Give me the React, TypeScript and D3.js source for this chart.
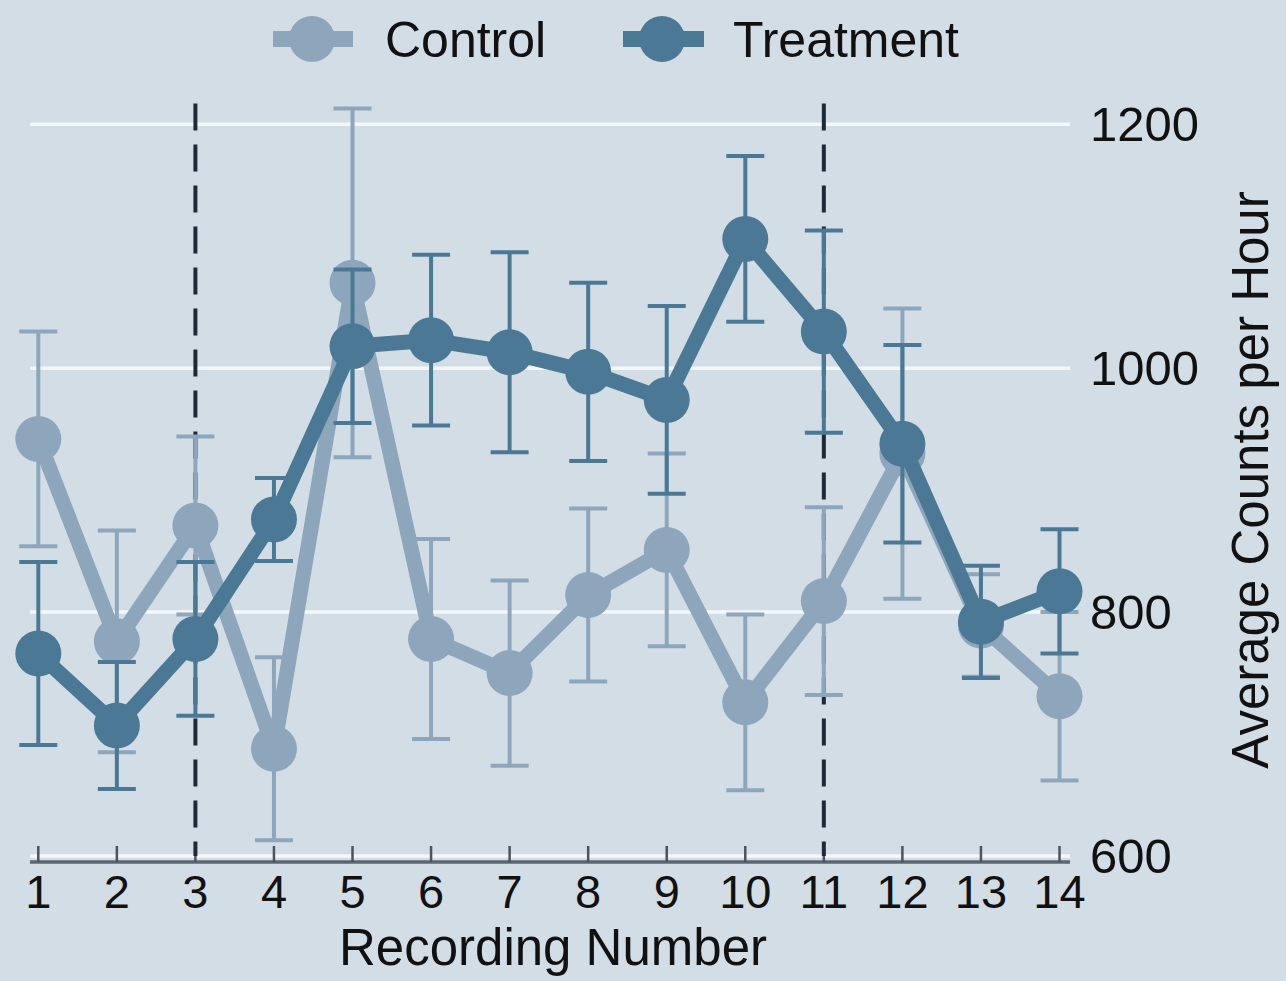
import React from "react";
import * as d3 from "d3";

// recordings 1..14
const recordings = [1, 2, 3, 4, 5, 6, 7, 8, 9, 10, 11, 12, 13, 14];

// mean counts per hour and error (half bar length)
const controlMean = [942, 776, 871, 688, 1070, 778, 750, 814, 851, 726, 809, 930, 789, 731];
const controlErr = [88, 91, 73, 75, 143, 82, 76, 71, 79, 72, 77, 119, 42, 69];
const treatmentMean = [766, 707, 778, 876, 1018, 1023, 1013, 997, 974, 1106, 1030, 938, 792, 817];
const treatmentErr = [75, 52, 63, 34, 63, 70, 82, 73, 77, 68, 83, 81, 46, 51];

const yTicks = [600, 800, 1000, 1200];
const markerLines = [3, 11];
const markerTop = 1217;

const W = 1286;
const H = 981;
const BG = "#d2dde6";
const CONTROL = "#8ea6bb";
const TREAT = "#4b7995";
const FONT = "'Liberation Sans', Arial, Helvetica, sans-serif";

const x = d3.scaleLinear().domain([1, 14]).range([38.3, 1059.5]);
const y = d3.scaleLinear().domain([600, 1200]).range([856, 124.3]);

const Series = ({ means, errs, color }) => {
  const line = d3.line<number>()
    .x((_, i) => x(recordings[i]))
    .y(d => y(d));
  return (
    <g>
      {means.map((m, i) => {
        const cx = x(recordings[i]);
        const top = y(m + errs[i]);
        const bot = y(m - errs[i]);
        return (
          <g key={i} stroke={color} strokeWidth={4}>
            <line x1={cx} x2={cx} y1={top} y2={bot} />
            <line x1={cx - 19} x2={cx + 19} y1={top} y2={top} />
            <line x1={cx - 19} x2={cx + 19} y1={bot} y2={bot} />
          </g>
        );
      })}
      <path d={line(means) || ""} fill="none" stroke={color} strokeWidth={15} strokeLinejoin="round" />
      {means.map((m, i) => (
        <circle key={i} cx={x(recordings[i])} cy={y(m)} r={23} fill={color} />
      ))}
    </g>
  );
};

export default function App() {
  return (
    <svg width={W} height={H} style={{ position: "absolute", left: 0, top: 0 }} fontFamily={FONT}>
      <rect width={W} height={H} fill={BG} />

      {/* gridlines */}
      {yTicks.map(t => (
        <line key={t} x1={30} x2={1070} y1={y(t)} y2={y(t)} stroke="#f4f7f9" strokeWidth={3.5} />
      ))}

      {/* x axis */}
      <line x1={30} x2={1070} y1={y(600) + 6} y2={y(600) + 6} stroke="#5c6670" strokeWidth={3.5} />
      {recordings.map(r => (
        <line key={r} x1={x(r)} x2={x(r)} y1={y(600) - 10} y2={y(600) + 6} stroke="#4a545e" strokeWidth={2.5} />
      ))}

      {/* reference lines */}
      {markerLines.map(r => (
        <line key={r} x1={x(r)} x2={x(r)} y1={y(markerTop)} y2={y(600)} stroke="#1e2a36" strokeWidth={4} strokeDasharray="27,14" />
      ))}

      <Series means={controlMean} errs={controlErr} color={CONTROL} />
      <Series means={treatmentMean} errs={treatmentErr} color={TREAT} />

      {/* x tick labels */}
      {recordings.map(r => (
        <text key={r} x={x(r)} y={908} textAnchor="middle" fontSize={47} fill="#111">{r}</text>
      ))}
      <text x={553} y={965} textAnchor="middle" fontSize={51} fill="#111">Recording Number</text>

      {/* y tick labels on the right */}
      {yTicks.map(t => (
        <text key={t} x={1090} y={y(t)} dominantBaseline="central" fontSize={49} fill="#111">{t}</text>
      ))}
      <text transform="translate(1268,480) rotate(-90)" textAnchor="middle" fontSize={51} fill="#111">Average Counts per Hour</text>

      {/* legend */}
      <g>
        <line x1={273} x2={353} y1={39} y2={39} stroke={CONTROL} strokeWidth={16} />
        <circle cx={312} cy={39} r={23} fill={CONTROL} />
        <text x={385} y={57} fontSize={50} fill="#111">Control</text>
        <line x1={623} x2={704} y1={39} y2={39} stroke={TREAT} strokeWidth={16} />
        <circle cx={662} cy={39} r={23} fill={TREAT} />
        <text x={733} y={57} fontSize={50} fill="#111">Treatment</text>
      </g>
    </svg>
  );
}
